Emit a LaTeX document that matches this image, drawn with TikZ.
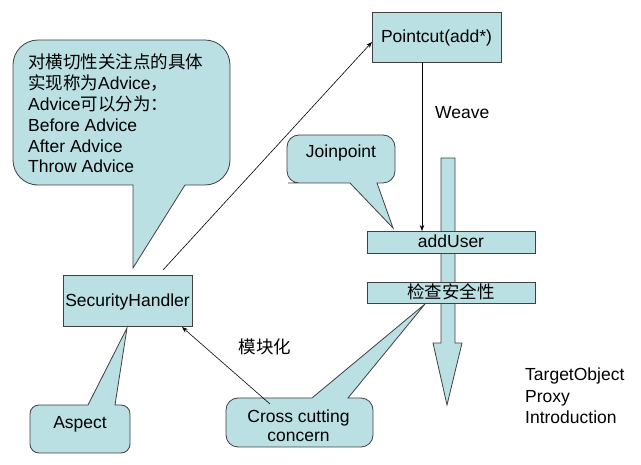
\documentclass[tikz,border=0pt]{standalone}
\usepackage{fontspec}
\setmainfont{Liberation Sans}
\newfontfamily\cjk{Noto Sans CJK SC}
\usetikzlibrary{arrows.meta}
\definecolor{boxfill}{RGB}{187,224,227}
\definecolor{boxline}{RGB}{64,64,64}
\begin{document}
\begin{tikzpicture}[x=1pt,y=-1pt,
  shapebox/.style={draw=boxline,fill=boxfill,line width=0.8pt},
  boxnode/.style={shapebox,inner sep=0pt,outer sep=0pt},
  lbl/.style={font=\fontsize{17.5}{21}\selectfont,inner sep=0pt,anchor=base},
  conn/.style={draw=black,line width=0.6pt,-{Stealth[length=6pt,width=4.5pt]}},
]
\useasboundingbox (0,0) rectangle (641,465);

% big flow arrow (behind the method boxes)
\draw[shapebox] (441,158) -- (455,158) -- (455,343) -- (462,343) -- (447,405)
  -- (433,343) -- (441,343) -- cycle;

% boxes
\node[boxnode,minimum width=129pt,minimum height=50pt] (pointcut) at (436.5,37) {};
\node[lbl] (pointcutTxt) at (436.5,43) {Pointcut(add*)};

\node[boxnode,minimum width=168pt,minimum height=22pt] (adduser) at (451,242) {};
\node[lbl] (adduserTxt) at (451,248) {addUser};

\node[boxnode,minimum width=168pt,minimum height=21pt] (check) at (451,292.5) {};
\node[lbl] (checkTxt) at (451,299) {\cjk 检查安全性};

\node[boxnode,minimum width=129pt,minimum height=51pt] (sechandler) at (127.5,300.5) {};
\node[lbl] (sechandlerTxt) at (127.5,306.5) {SecurityHandler};

% callout: advice
\draw[shapebox] (100,185) -- (133,185) -- (133,268) -- (185,185) -- (190,185)
  [rounded corners=25pt] -- (230,185) -- (230,40) -- (13,40) -- (13,185) -- (60,185)
  [sharp corners] -- cycle;
\node[lbl,anchor=base west] (adv1) at (28,69) {\cjk 对横切性关注点的具体};
\node[lbl,anchor=base west] (adv2) at (28,90) {{\cjk 实现称为}Advice{\cjk ，}};
\node[lbl,anchor=base west] (adv3) at (28,111) {Advice{\cjk 可以分为：}};
\node[lbl,anchor=base west] (adv4) at (28,131.5) {Before Advice};
\node[lbl,anchor=base west] (adv5) at (28,152.5) {After Advice};
\node[lbl,anchor=base west] (adv6) at (28,173) {Throw Advice};

% callout: joinpoint
\draw[shapebox] (320,183) -- (350,183) -- (393,228) -- (377,183) -- (380,183)
  [rounded corners=12pt] -- (395,183) -- (395,135) -- (287,135) -- (287,183) -- (300,183)
  [sharp corners] -- cycle;
\node[lbl] (joinTxt) at (341,158) {Joinpoint};

% callout: aspect
\draw[shapebox] (60,405) -- (88,405) -- (127,328) -- (115,405) -- (118,405)
  [rounded corners=9pt] -- (130,405) -- (130,453) -- (30,453) -- (30,405) -- (50,405)
  [sharp corners] -- cycle;
\node[lbl] (aspectTxt) at (80,429) {Aspect};

% callout: cross cutting concern
\draw[shapebox] (280,398) -- (312,398) -- (425,304) -- (348,398) -- (352,398)
  [rounded corners=12pt] -- (373,398) -- (373,447) -- (226,447) -- (226,398) -- (250,398)
  [sharp corners] -- cycle;
\node[lbl] (ccTxt1) at (298.5,422.5) {Cross cutting};
\node[lbl] (ccTxt2) at (298.5,442) {concern};

% connectors
\coordinate (shTop) at (163,270);
\coordinate (pcIn) at (372,42);
\draw[conn] (shTop) -- (pcIn);

\coordinate (weaveTop) at (422,62);
\draw[conn] (weaveTop) -- (weaveTop |- adduser.north);
\node[lbl,anchor=base west] (weaveTxt) at (435,119) {Weave};

\coordinate (ccStart) at (270,404);
\coordinate (shIn) at (182,327);
\draw[conn] (ccStart) -- (shIn);
\node[lbl] (modTxt) at (265,354) {\cjk 模块化};

% side labels
\node[lbl,anchor=base west] (tgt1) at (525,381) {TargetObject};
\node[lbl,anchor=base west] (tgt2) at (525,403) {Proxy};
\node[lbl,anchor=base west] (tgt3) at (525,424) {Introduction};
\end{tikzpicture}
\end{document}
